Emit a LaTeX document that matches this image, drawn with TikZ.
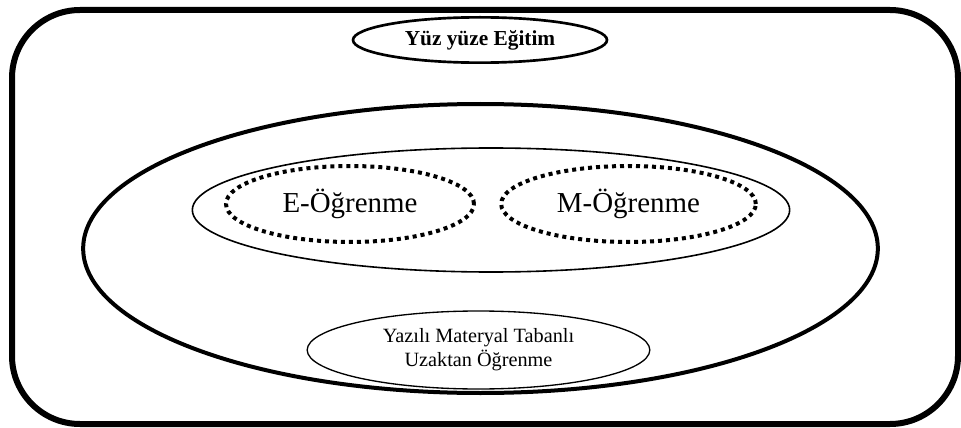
\documentclass[tikz,border=0pt]{standalone}
\usepackage{fontspec}
\setmainfont{Liberation Serif}
\usetikzlibrary{shapes.geometric}

\begin{document}
\begin{tikzpicture}[x=0.75pt,y=-0.75pt,
  oval/.style={ellipse,draw,inner sep=0pt},
  dotoval/.style={oval,line width=3pt,dash pattern=on 3pt off 3pt},
  bigfont/.style={font=\fontsize{21.7}{26}\selectfont}]
\useasboundingbox (0,0) rectangle (961,428);
\draw[line width=4.5pt,rounded corners=51pt] (12,10) rectangle (958,424);
\node[oval,line width=2pt,minimum width=190.5pt,minimum height=34pt,
  font=\bfseries\fontsize{16}{19}\selectfont] (face) at (480,40) {Yüz yüze Eğitim};
\node[oval,line width=3pt,minimum width=596pt,minimum height=216.75pt] (distance) at (480.5,248.5) {};
\node[oval,line width=1.2pt,minimum width=448pt,minimum height=93pt] (online) at (491,210) {};
\node[dotoval,bigfont,minimum width=186pt,minimum height=57pt] (elearn) at (350,204) {E-Öğrenme};
\node[dotoval,bigfont,minimum width=191pt,minimum height=57pt] (mlearn) at (628.5,204) {M-Öğrenme};
\node[oval,line width=1pt,minimum width=257pt,minimum height=58.5pt,align=center,
  font=\fontsize{15.2}{18}\selectfont] (print) at (478.5,350) {Yazılı Materyal Tabanlı\\Uzaktan Öğrenme};
\end{tikzpicture}
\end{document}
